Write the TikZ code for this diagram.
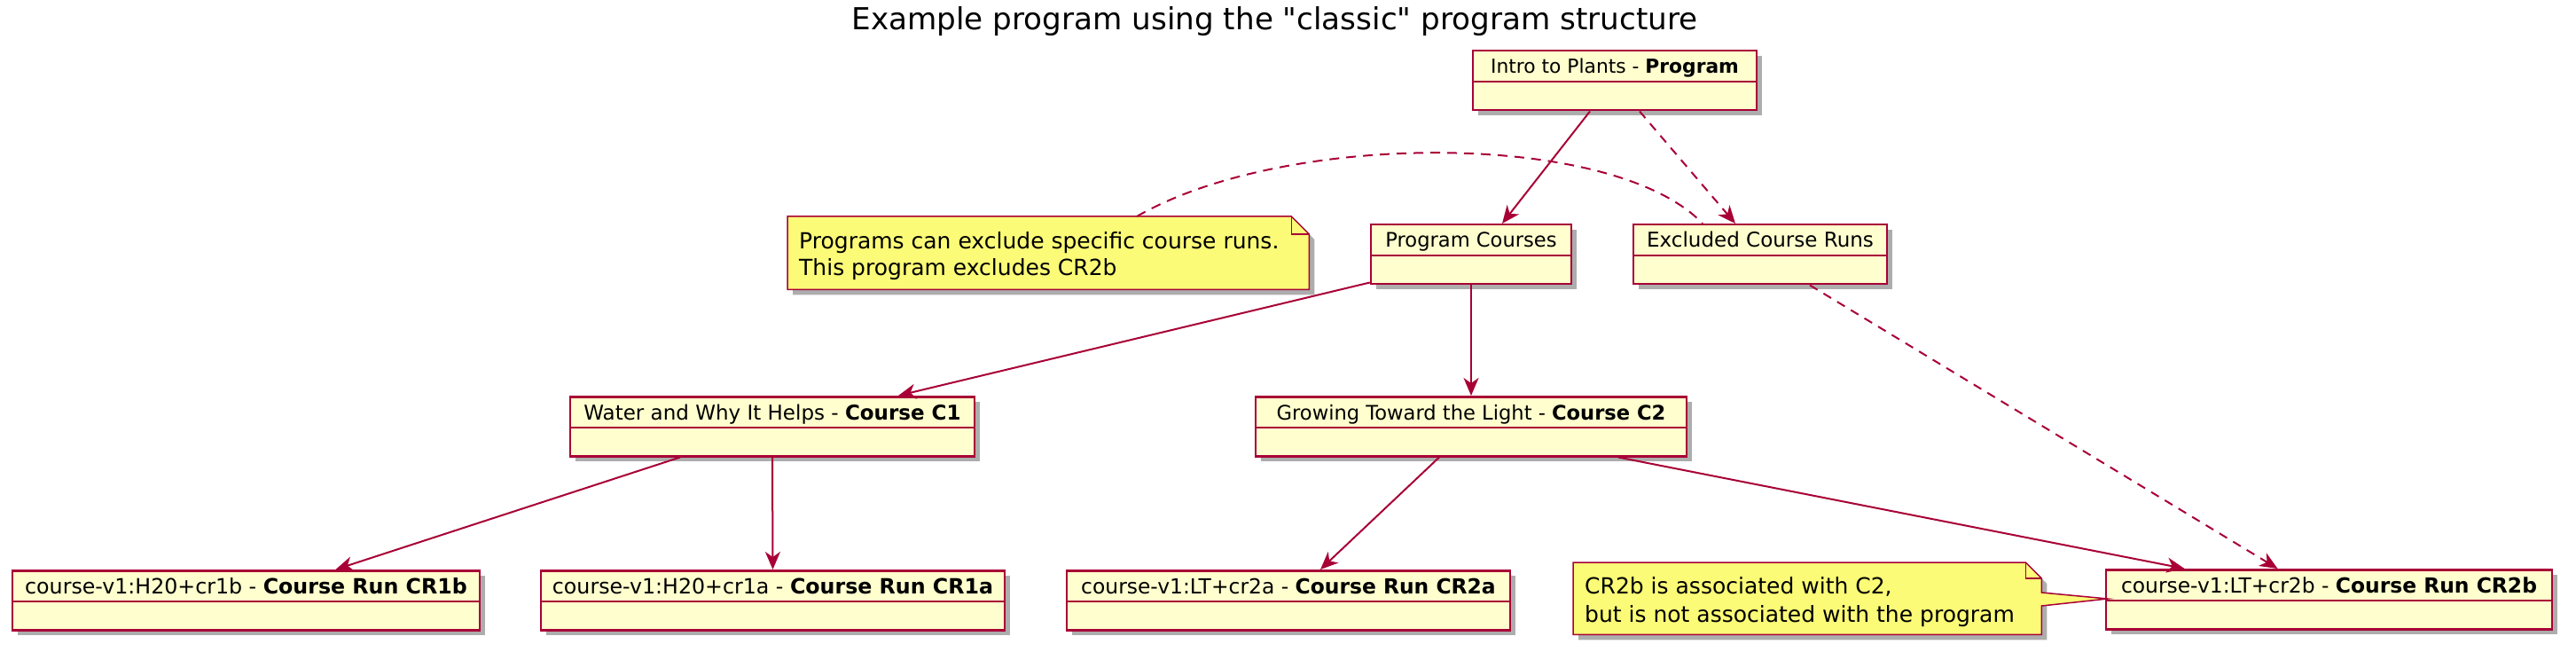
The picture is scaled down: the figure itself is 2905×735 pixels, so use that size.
\documentclass[tikz,border=0pt]{standalone}
\usepackage{fontspec}
\setmainfont{DejaVu Sans}[Ligatures=TeXOff]
\usetikzlibrary{calc,arrows.meta,shadows}
\definecolor{bord}{HTML}{A80036}
\definecolor{clsfill}{HTML}{FEFECE}
\definecolor{notefill}{HTML}{FBFB77}
\tikzset{
  cls/.style={draw=bord, fill=clsfill, line width=2.5pt, minimum height=67pt, inner sep=0pt, anchor=north,
    drop shadow={shadow xshift=6pt, shadow yshift=-6pt, fill=black, opacity=0.32}},
  clsdiv/.style={draw=bord, line width=2.5pt},
  hdr/.style={anchor=base, inner sep=0pt, font=\fontsize{#1}{26}\selectfont},
  hdr/.default=22,
  arr/.style={draw=bord, line width=2pt, -{Stealth[length=20pt,width=17pt,inset=6pt]}},
  darr/.style={arr, dash pattern=on 10pt off 8pt},
  notelink/.style={draw=bord, line width=2pt, dash pattern=on 11pt off 8pt},
  noteshape/.style={draw=bord, fill=notefill, line width=1.5pt, line join=miter},
  noteshadow/.style={fill=black, opacity=0.32},
  notebox/.style={inner sep=0pt, anchor=north west},
  notetext/.style={anchor=base west, inner sep=0pt, font=\fontsize{25}{30}\selectfont},
  ttl/.style={anchor=base, inner sep=0pt, font=\fontsize{34.2}{36}\selectfont},
}
\begin{document}
\begin{tikzpicture}[x=1pt,y=-1pt]
\useasboundingbox (0,0) rectangle (2905,735);
\fill[white] (0,0) rectangle (2905,735);

% title
\node[ttl] (title) at (1437.5,34) {Example program using the "classic" program structure};

% class boxes
\node[cls, minimum width=320pt] (prog) at (1821,56) {};
\node[cls, minimum width=226pt] (pcourses) at (1659,252) {};
\node[cls, minimum width=286pt] (excl) at (1985,252) {};
\node[cls, minimum width=456pt] (water) at (871,446) {};
\node[cls, minimum width=486pt] (grow) at (1659,446) {};
\node[cls, minimum width=527pt] (cr1b) at (277.5,642) {};
\node[cls, minimum width=523pt] (cr1a) at (871.5,642) {};
\node[cls, minimum width=500pt] (cr2a) at (1453,642) {};
\node[cls, minimum width=503pt] (cr2b) at (2626.5,641) {};

\foreach \b in {prog,pcourses,excl,water,grow,cr1b,cr1a,cr2a,cr2b}{
  \draw[clsdiv] ($(\b.north west)+(0,36)$) -- ($(\b.north east)+(0,36)$);
}

\node[hdr=21.8] (progt) at ($(prog.north)+(0,27)$) {Intro to Plants - \textbf{Program}};
\node[hdr=22.6] (pcoursest) at ($(pcourses.north)+(0,27)$) {Program Courses};
\node[hdr=23] (exclt) at ($(excl.north)+(0,27)$) {Excluded Course Runs};
\node[hdr=23] (watert) at ($(water.north)+(0,27)$) {Water and Why It Helps - \textbf{Course C1}};
\node[hdr=22.6] (growt) at ($(grow.north)+(0,27)$) {Growing Toward the Light - \textbf{Course C2}};
\node[hdr=23.7] (cr1bt) at ($(cr1b.north)+(0,27)$) {course-v1:H20+cr1b - \textbf{Course Run CR1b}};
\node[hdr=23.7] (cr1at) at ($(cr1a.north)+(0,27)$) {course-v1:H20+cr1a - \textbf{Course Run CR1a}};
\node[hdr=23.4] (cr2at) at ($(cr2a.north)+(0,27)$) {course-v1:LT+cr2a - \textbf{Course Run CR2a}};
\node[hdr=23.4] (cr2bt) at ($(cr2b.north)+(0,27)$) {course-v1:LT+cr2b - \textbf{Course Run CR2b}};

% note 1
\node[notebox, minimum width=588pt, minimum height=82pt] (n1) at (888,244) {};
\fill[noteshadow] ($(n1.north west)+(6,6)$) -- ($(n1.north east)+(-14,6)$) -- ($(n1.north east)+(6,26)$)
  -- ($(n1.south east)+(6,6)$) -- ($(n1.south west)+(6,6)$) -- cycle;
\path[noteshape] (n1.north west) -- ($(n1.north east)+(-20,0)$) -- ($(n1.north east)+(0,20)$)
  -- (n1.south east) -- (n1.south west) -- cycle;
\draw[noteshape, fill=none] ($(n1.north east)+(-20,0)$) -- ($(n1.north east)+(-20,20)$) -- ($(n1.north east)+(0,20)$);
\node[notetext] (n1a) at ($(n1.north west)+(13,37)$) {Programs can exclude specific course runs.};
\node[notetext] (n1b) at ($(n1.north west)+(13,67)$) {This program excludes CR2b};

% note 2
\node[notebox, minimum width=528pt, minimum height=81pt] (n2) at (1774,634) {};
\fill[noteshadow] ($(n2.north west)+(6,6)$) -- ($(n2.north east)+(-12,6)$) -- ($(n2.north east)+(6,24)$)
  -- ($(n2.south east)+(6,6)$) -- ($(n2.south west)+(6,6)$) -- cycle;
\path[noteshape] (n2.north west) -- ($(n2.north east)+(-18,0)$) -- ($(n2.north east)+(0,18)$)
  -- ($(n2.north east)+(0,34)$) -- ($(cr2b.north west)+(3,34)$) -- ($(n2.north east)+(0,49)$)
  -- (n2.south east) -- (n2.south west) -- cycle;
\draw[noteshape, fill=none] ($(n2.north east)+(-18,0)$) -- ($(n2.north east)+(-18,18)$) -- ($(n2.north east)+(0,18)$);
\node[notetext] (n2a) at ($(n2.north west)+(13,35)$) {CR2b is associated with C2,};
\node[notetext] (n2b) at ($(n2.north west)+(13,67)$) {but is not associated with the program};

% connectors
\draw[arr] ($(prog.south)+(-28,0)$) -- ($(pcourses.north)+(35,0)$);
\draw[darr] ($(prog.south)+(28,0)$) -- ($(excl.north)+(-28,0)$);
\draw[notelink] ($(n1.north west)+(394,0)$) .. controls (1450,147) and (1820,147) .. ($(excl.north)+(-65,0)$);
\draw[arr] ($(pcourses.south west)+(0,-3)$) -- ($(water.north)+(142,0)$);
\draw[arr] (pcourses.south) -- (grow.north);
\draw[darr] ($(excl.south)+(56,0)$) -- ($(cr2b.north)+(-58,0)$);
\draw[arr] ($(water.south)+(-104,0)$) -- ($(cr1b.north)+(101,0)$);
\draw[arr] (water.south) -- (cr1a.north);
\draw[arr] ($(grow.south)+(-36,0)$) -- ($(cr2a.north)+(36,0)$);
\draw[arr] ($(grow.south)+(166,0)$) -- ($(cr2b.north)+(-163,0)$);
\end{tikzpicture}
\end{document}
